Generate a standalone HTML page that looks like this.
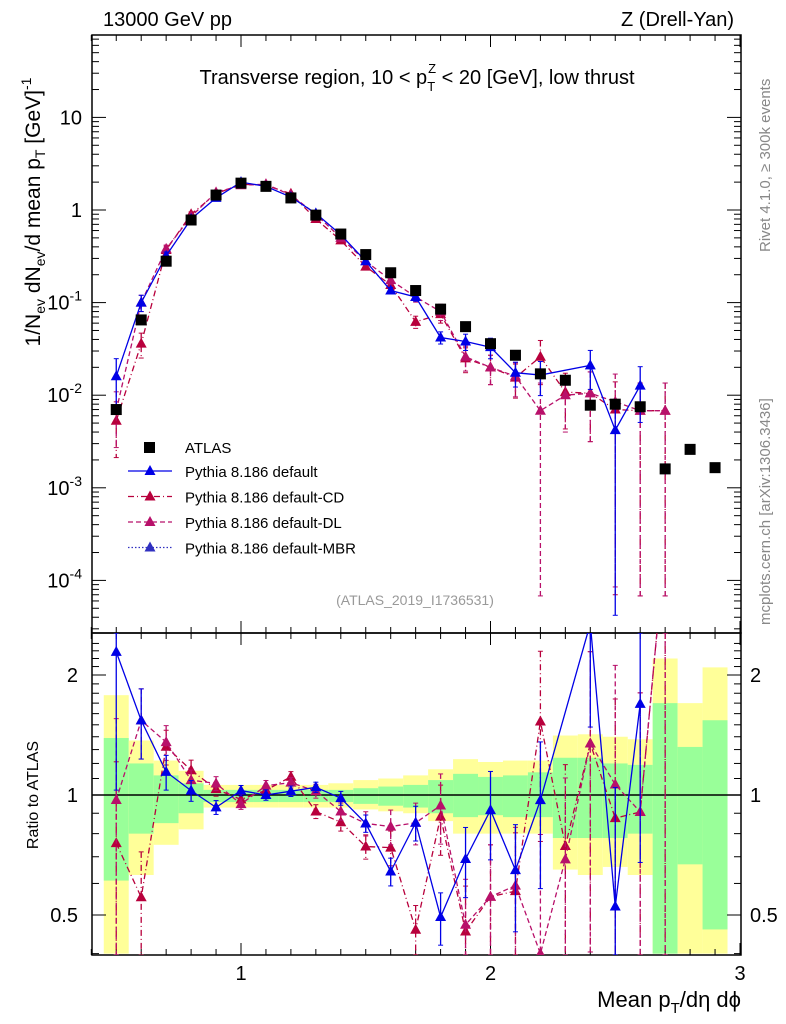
<!DOCTYPE html>
<html><head><meta charset="utf-8"><style>
html,body{margin:0;padding:0;background:#fff;overflow:hidden;}
svg{display:block;}
svg text{font-family:"Liberation Sans",sans-serif;}
</style></head><body>
<svg id="c" width="786" height="1024" xmlns="http://www.w3.org/2000/svg"></svg>
<script>
const xs=[0.5,0.6,0.7,0.8,0.9,1.0,1.1,1.2,1.3,1.4,1.5,1.6,1.7,1.8,1.9,2.0,2.1,2.2,2.3,2.4,2.5,2.6,2.7,2.8,2.9];
const atlas=[0.007,0.065,0.28,0.78,1.45,1.95,1.8,1.35,0.88,0.55,0.33,0.21,0.135,0.085,0.055,0.036,0.027,0.017,0.0145,0.0078,0.008,0.0075,0.0016,0.0026,0.00165];
const pyDef=[0.016,0.1,0.32,0.8,1.35,2.0,1.8,1.38,0.92,0.54,0.28,0.135,0.115,0.042,0.038,0.033,0.0175,0.0165,null,0.021,0.0042,0.0127,null,null,null];
const pyDefErr=[0.55,0.2,0.1,0.06,0.04,0.03,0.03,0.03,0.03,0.04,0.05,0.08,0.1,0.15,0.2,0.25,0.3,0.4,0,0.45,0.99,0.6,0,0,0];
const pyCD=[0.0053,0.036,0.37,0.9,1.5,1.9,1.85,1.5,0.8,0.47,0.245,0.155,0.062,0.075,0.025,0.02,0.0155,0.026,0.0108,0.0105,0.007,0.0068,0.0068,null,null];
const pyCDErr=[0.6,0.3,0.1,0.06,0.04,0.03,0.03,0.03,0.04,0.05,0.07,0.1,0.15,0.2,0.3,0.35,0.4,0.5,0.6,0.7,0.99,0.99,0.99,0,0];
const pyDL=[0.0068,0.1,0.38,0.85,1.55,1.85,1.9,1.45,0.9,0.5,0.28,0.175,0.115,0.08,0.026,0.02,0.016,0.0068,0.01,0.0105,0.0085,0.0068,0.0068,null,null];
const pyDLErr=[0.6,0.2,0.1,0.06,0.04,0.03,0.03,0.03,0.04,0.05,0.07,0.1,0.12,0.2,0.3,0.35,0.4,0.99,0.6,0.7,0.99,0.99,0.99,0,0];
const greenHi=[1.39,1.2,1.12,1.07,1.03,1.03,1.03,1.03,1.03,1.03,1.04,1.05,1.06,1.09,1.13,1.11,1.12,1.14,1.24,1.24,1.2,1.19,1.7,1.32,1.54];
const greenLo=[0.61,0.8,0.85,0.9,0.96,0.96,0.96,0.96,0.96,0.96,0.95,0.94,0.93,0.9,0.88,0.89,0.88,0.88,0.78,0.78,0.78,0.8,0.4,0.67,0.46];
const yelHi=[1.78,1.37,1.22,1.15,1.06,1.06,1.06,1.06,1.06,1.07,1.09,1.1,1.12,1.16,1.23,1.21,1.22,1.22,1.41,1.42,1.4,1.38,2.2,1.7,2.09];
const yelLo=[0.4,0.63,0.75,0.82,0.93,0.93,0.93,0.93,0.93,0.93,0.92,0.91,0.9,0.86,0.8,0.8,0.8,0.8,0.65,0.63,0.66,0.63,0.4,0.4,0.4];
const mainTicks=[10,1,0.1,0.01,0.001,0.0001];
const mainTickLabels=[["10",""],["1",""],["10","-1"],["10","-2"],["10","-3"],["10","-4"]];
const ratioTicks=[2,1,0.5];
const ratioTickLabels=["2","1","0.5"];
const xTicks=[1,2,3];
const xTickLabels=["1","2","3"];

const L=92,R=741,T=35,MB=633,RB=955;
const X=v=>241+(v-1)*249.5;
const Y=v=>210-Math.log10(v)*92.6;
const YR=v=>795-Math.log2(v)*120;
const cl=(v,a,b)=>Math.max(a,Math.min(b,v));
const svg=document.getElementById('c');
const NS="http://www.w3.org/2000/svg";
function mk(tag,at,parent){const e=document.createElementNS(NS,tag);for(const k in at)e.setAttribute(k,at[k]);(parent||svg).appendChild(e);return e;}
function txt(s,at,parent){const e=mk('text',at,parent);e.textContent=s;return e;}
function clip(id,y0,y1){const d=mk('clipPath',{id:id});mk('rect',{x:L,y:y0,width:R-L,height:y1-y0},d);}
clip('cm',T,MB);clip('cr',MB,RB);

const bands=mk('g',{'clip-path':'url(#cr)'});


xs.forEach((x,i)=>{
  const x0=X(x-0.05),x1=X(x+0.05);
  const yt=cl(YR(yelHi[i]),MB,RB),ybt=cl(YR(yelLo[i]),MB,RB);
  const yb=mk('rect',{x:x0,y:yt,width:x1-x0,height:ybt-yt,fill:'#ffff99'},bands);
  
  
  const gt=cl(YR(greenHi[i]),MB,RB),gbt=cl(YR(greenLo[i]),MB,RB);
  const gb=mk('rect',{x:x0,y:gt,width:x1-x0,height:gbt-gt,fill:'#99ff99'},bands);
  
  
});
mk('line',{x1:L,x2:R,y1:YR(1),y2:YR(1),stroke:'#000','stroke-width':1.5});

mk('rect',{x:L,y:T,width:R-L,height:MB-T,fill:'none',stroke:'#000','stroke-width':1.5});
mk('rect',{x:L,y:MB,width:R-L,height:RB-MB,fill:'none',stroke:'#000','stroke-width':1.5});

for(let k=4;k<=30;k++){const v=k/10;const px=X(v);const maj=(k%10==0);const len=maj?12:6;
  [[T,1],[MB,-1],[MB,1],[RB,-1]].forEach(([y,d])=>mk('line',{x1:px,x2:px,y1:y,y2:y+d*len,stroke:'#000'}));}
xTicks.forEach((v,i)=>{const t=txt(xTickLabels[i],{x:X(v),y:980,'font-size':20,'text-anchor':'middle'});});
for(let e=-5;e<=1;e++){for(let m=1;m<10;m++){const v=m*Math.pow(10,e);const py=Y(v);if(py<T||py>MB)continue;const len=m==1?14:7;
  mk('line',{x1:L,x2:L+len,y1:py,y2:py,stroke:'#000'});mk('line',{x1:R,x2:R-len,y1:py,y2:py,stroke:'#000'});}}
mainTicks.forEach((v,i)=>{const t=txt('',{x:82,y:Y(v)+7,'font-size':20,'text-anchor':'end'});
  const a=mk('tspan',{},t);a.textContent=mainTickLabels[i][0];if(mainTickLabels[i][1]){const b=mk('tspan',{dy:-9,'font-size':14},t);b.textContent=mainTickLabels[i][1];}});
for(let v=0.4;v<=2.5;v+=0.1){const py=YR(v);if(py<MB||py>RB)continue;const maj=Math.abs(v-1)<1e-6||Math.abs(v-2)<1e-6||Math.abs(v-0.5)<1e-6;const len=maj?14:7;
  mk('line',{x1:L,x2:L+len,y1:py,y2:py,stroke:'#000'});mk('line',{x1:R,x2:R-len,y1:py,y2:py,stroke:'#000'});}
ratioTicks.forEach((v,i)=>{txt(ratioTickLabels[i],{x:78,y:YR(v)+7,'font-size':20,'text-anchor':'end'});txt(ratioTickLabels[i],{x:750,y:YR(v)+7,'font-size':20});});

function drawSeries(vals,errs,color,dash,name,ratio){
  const g=mk('g',{'clip-path':ratio?'url(#cr)':'url(#cm)'});
  
  
  const y0=ratio?MB:T,y1=ratio?RB:MB;
  const F=ratio?(i=>YR(vals[i]/atlas[i])):(i=>Y(vals[i]));
  let pts=[];xs.forEach((x,i)=>{if(vals[i]!=null)pts.push(X(x)+','+F(i));});
  mk('polyline',{points:pts.join(' '),fill:'none',stroke:color,'stroke-width':1.3,'stroke-dasharray':dash},g);
  xs.forEach((x,i)=>{if(vals[i]==null)return;const px=X(x),py=F(i);
    const e=errs[i];const base=ratio?vals[i]/atlas[i]:vals[i];
    const hi=base*(1+e),lo=base*Math.max(1-e,0.001);
    const yh=cl(ratio?YR(hi):Y(hi),y0,y1),yl=cl(ratio?YR(lo):Y(lo),y0,y1);
    mk('line',{x1:px,x2:px,y1:yh,y2:yl,stroke:color,'stroke-width':1.3,'stroke-dasharray':dash},g);
    mk('line',{x1:px-2.5,x2:px+2.5,y1:yh,y2:yh,stroke:color},g);mk('line',{x1:px-2.5,x2:px+2.5,y1:yl,y2:yl,stroke:color},g);
    const m=mk('polygon',{points:`${px},${py-6} ${px-5.5},${py+4} ${px+5.5},${py+4}`,fill:color},g);
    
    
  });
}
[false,true].forEach(r=>{
  drawSeries(pyCD,pyCDErr,'#b8003c','6,3,1,3','pythia-default-cd',r);
  drawSeries(pyDL,pyDLErr,'#b8106a','5,3','pythia-default-dl',r);
  drawSeries(pyDef,pyDefErr,'#0000e6','','pythia-default',r);
});
const ga=mk('g',{'clip-path':'url(#cm)'});


xs.forEach((x,i)=>{const s=mk('rect',{x:X(x)-5.5,y:Y(atlas[i])-5.5,width:11,height:11,fill:'#000'},ga);
  
  });

const leg=mk('g',{});


mk('rect',{x:144,y:442,width:11,height:11,fill:'#000'},leg);
txt('ATLAS',{x:185,y:453,'font-size':15},leg);
const le=[['Pythia 8.186 default','#0000e6',''],['Pythia 8.186 default-CD','#b8003c','6,3,1,3'],['Pythia 8.186 default-DL','#b8106a','5,3'],['Pythia 8.186 default-MBR','#3030c0','1.5,2']];
le.forEach((l,i)=>{const y=471+i*25.5;mk('line',{x1:128,x2:172,y1:y,y2:y,stroke:l[1],'stroke-width':1.3,'stroke-dasharray':l[2]},leg);
  mk('polygon',{points:`150,${y-6} 144.5,${y+4} 155.5,${y+4}`,fill:l[1]},leg);
  txt(l[0],{x:185,y:y+6,'font-size':15},leg);});

txt('13000 GeV pp',{x:103,y:26,'font-size':20});
txt('Z (Drell-Yan)',{x:734,y:26,'font-size':20,'text-anchor':'end'});
const ti=txt('',{x:417,y:84,'font-size':20,'text-anchor':'middle'});
ti.innerHTML='Transverse region, 10 &lt; p<tspan dy="7" font-size="13">T</tspan><tspan dy="-18" dx="-7" font-size="13">Z</tspan><tspan dy="11"> &lt; 20 [GeV], low thrust</tspan>';
txt('(ATLAS_2019_I1736531)',{x:415,y:605,'font-size':14,fill:'#999','text-anchor':'middle'});
const yl=txt('',{transform:'translate(40,212) rotate(-90)','font-size':21,'text-anchor':'middle'});
yl.innerHTML='1/N<tspan dy="5" font-size="14">ev</tspan><tspan dy="-5"> dN</tspan><tspan dy="5" font-size="14">ev</tspan><tspan dy="-5">/d mean p</tspan><tspan dy="5" font-size="14">T</tspan><tspan dy="-5"> [GeV]</tspan><tspan dy="-9" font-size="14">-1</tspan>';
txt('Ratio to ATLAS',{transform:'translate(38,795) rotate(-90)','font-size':16,'text-anchor':'middle'});
const xl=txt('',{x:741,y:1007,'font-size':22,'text-anchor':'end'});
xl.innerHTML='Mean p<tspan dy="6" font-size="15">T</tspan><tspan dy="-6">/dη dϕ</tspan>';
const r1=txt('',{transform:'translate(770,252) rotate(-90)','font-size':15,fill:'#888'});
r1.innerHTML='Rivet 4.1.0, ≥ 300k events';
txt('mcplots.cern.ch [arXiv:1306.3436]',{transform:'translate(770,625) rotate(-90)','font-size':15,fill:'#888'});
</script>
</body></html>
